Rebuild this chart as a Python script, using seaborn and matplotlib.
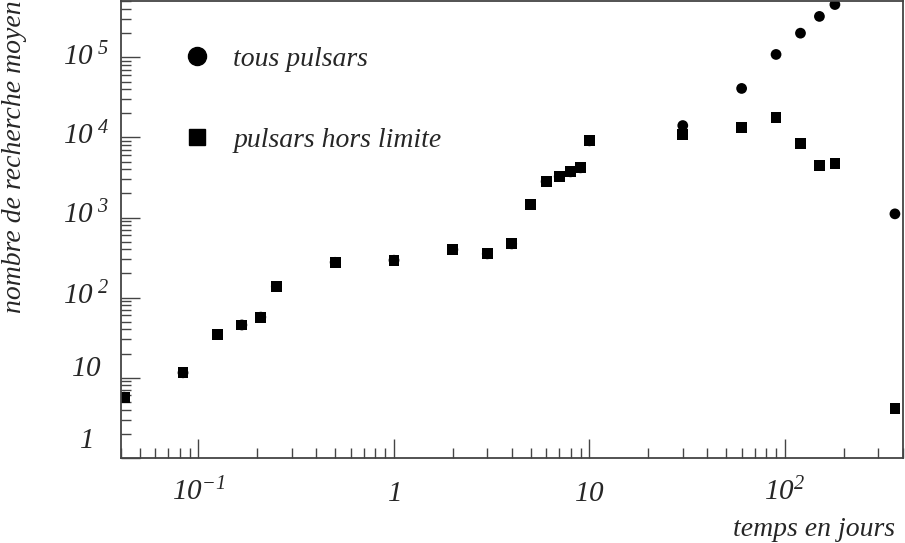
import numpy as np
import pandas as pd
import matplotlib
matplotlib.use("Agg")
import matplotlib.pyplot as plt
from matplotlib.lines import Line2D
from matplotlib.transforms import ScaledTranslation
import seaborn as sns

# temps en jours
jours = [1/24, 2/24, 3/24, 4/24, 5/24, 6/24, 0.5, 1, 2, 3, 4, 5, 6, 7, 8, 9, 10,
         30, 60, 90, 120, 150, 180, 365]
# pulsars hors limite (squares)
hors_limite = [5.7, 11.5, 34.5, 45.5, 57, 138, 276, 293, 398, 352, 469, 1454, 2818,
               3254, 3724, 4180, 9085, 10900, 13330, 17950, 8490, 4510, 4730, 4.1]
# tous pulsars (circles) - same as squares until 10 days
tous = [5.7, 11.5, 34.5, 45.5, 57, 138, 276, 293, 398, 352, 469, 1454, 2818,
        3254, 3724, 4180, 9085, 14100, 41000, 109000, 201000, 325500, 458000, 1112]

x_ticks = [0.1, 1, 10, 100]
x_ticklabels = [r"$10^{-1}$", r"$1$", r"$10$", r"$10^{2}$"]
y_ticks = [1, 10, 100, 1e3, 1e4, 1e5]
y_ticklabels = [r"$1$", r"$10$", r"$10^{\ 2}$", r"$10^{\ 3}$", r"$10^{\ 4}$", r"$10^{\ 5}$"]

df = pd.DataFrame({"jours": jours, "tous": tous, "hors": hors_limite})

sns.set_style("ticks")
plt.rcParams["font.family"] = ["Liberation Serif", "DejaVu Serif"]
plt.rcParams["font.style"] = "italic"
plt.rcParams["mathtext.fontset"] = "custom"
plt.rcParams["mathtext.rm"] = "Liberation Serif:italic"
plt.rcParams["mathtext.it"] = "Liberation Serif:italic"
plt.rcParams["mathtext.default"] = "rm"

fig = plt.figure(figsize=(9.05, 5.43), dpi=100)
ax = fig.add_axes([120.7 / 905, 1 - 457.7 / 543, (902.7 - 120.7) / 905, (457.7 - 0.8) / 543])

sns.scatterplot(data=df, x="jours", y="tous", marker="o", s=60, color="black",
                edgecolor="none", ax=ax, legend=False, clip_on=True)
sns.scatterplot(data=df, x="jours", y="hors", marker="s", s=60, color="black",
                edgecolor="none", ax=ax, legend=False, clip_on=True)

ax.set_xscale("log")
ax.set_yscale("log")
ax.set_xlim(0.04, 400)
ax.set_ylim(1, 5.1e5)

ax.set_xticks(x_ticks)
ax.set_xticklabels(x_ticklabels)
ax.set_yticks(y_ticks)
ax.set_yticklabels(y_ticklabels)

spine_col = "#444444"
for sp in ax.spines.values():
    sp.set_color(spine_col)
    sp.set_linewidth(1.3)

ax.tick_params(which="major", direction="in", length=14, width=1.0, color=spine_col,
               labelsize=21, top=False, right=False)
ax.tick_params(which="minor", direction="in", length=7, width=1.0, color=spine_col,
               top=False, right=False)
ax.tick_params(axis="x", which="major", pad=31)
ax.tick_params(axis="y", which="major", pad=25)
plt.setp(ax.get_xticklabels(), va="baseline")
plt.setp(ax.get_yticklabels(), ha="center")

# nudge y labels up a little, like the original
y_shift = [20, 12, 5, 5, 4, 3]
for lbl, dy in zip(ax.get_yticklabels(), y_shift):
    lbl.set_transform(lbl.get_transform() + ScaledTranslation(0, dy / 100, fig.dpi_scale_trans))

ax.set_ylabel("nombre de recherche moyen", fontsize=20, loc="top")
ax.yaxis.set_label_coords(-0.12, 1.0)
ax.set_xlabel("temps en jours", fontsize=20, loc="right")
ax.xaxis.set_label_coords(0.99, -0.13)

handles = [
    Line2D([], [], marker="o", color="black", linestyle="none", markersize=13),
    Line2D([], [], marker="s", color="black", linestyle="none", markersize=12),
]
ax.legend(handles, ["tous pulsars", "pulsars hors limite"], loc="upper left",
          bbox_to_anchor=(0.048, 0.955), frameon=False, fontsize=20,
          labelspacing=2.0, handletextpad=0.8, handlelength=1.0)

ax.grid(False)
fig.savefig("out.png", dpi=100)
